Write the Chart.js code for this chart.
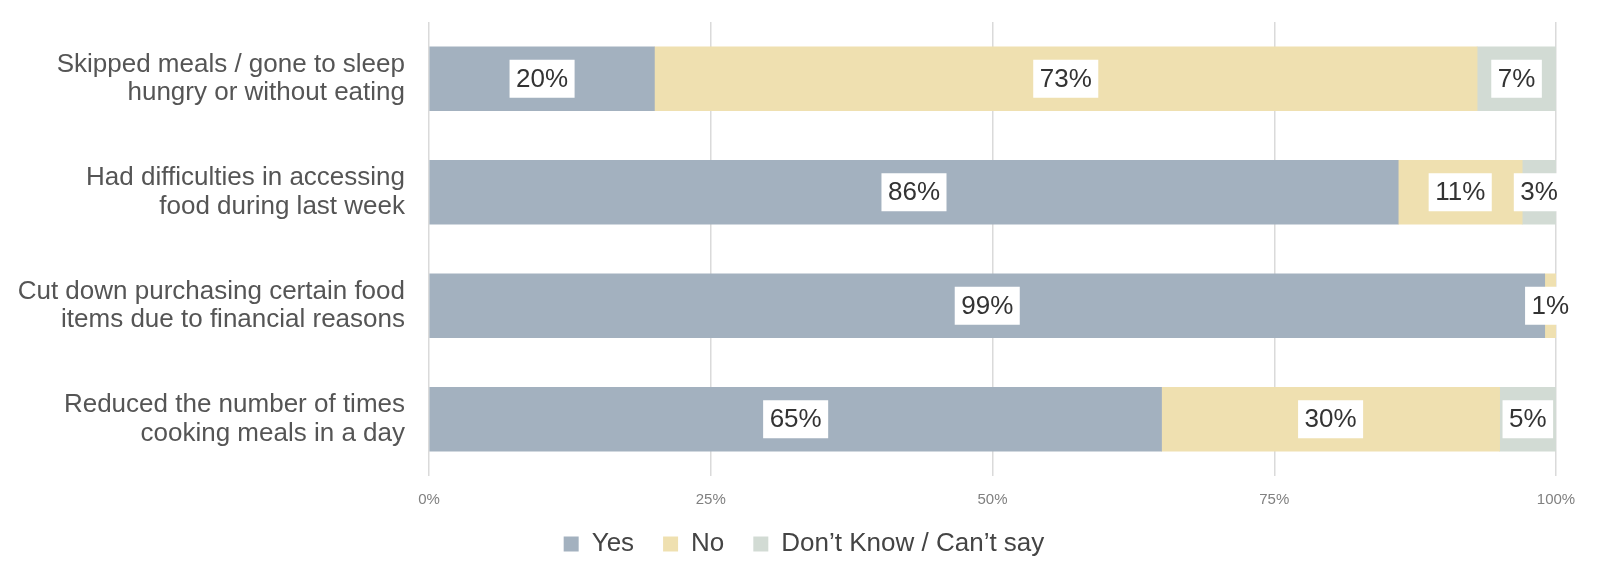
<!DOCTYPE html>
<html><head><meta charset="utf-8">
<script src="https://cdn.jsdelivr.net/npm/chart.js@4"></script>
<style>html,body{margin:0;padding:0;background:#fff;overflow:hidden}#wrap{width:1600px;height:576px}</style>
</head><body><div id="wrap"><canvas id="c"></canvas></div>
<script>
const categories = [
  ["Skipped meals / gone to sleep","hungry or without eating"],
  ["Had difficulties in accessing","food during last week"],
  ["Cut down purchasing certain food","items due to financial reasons"],
  ["Reduced the number of times","cooking meals in a day"]
];
const seriesNames = ["Yes","No","Don\u2019t Know / Can\u2019t say"];
const yesValues = [20, 86, 99, 65];
const noValues = [73, 11, 1, 30];
const dkValues = [7, 3, 0, 5];
const tickValues = [0, 25, 50, 75, 100];
const colors = ["#A3B1BF", "#EFE0B0", "#D2DBD4"];
const FONT = "'Liberation Sans', Arial, sans-serif";

const labelPlugin = {
  id: 'boxLabels',
  beforeDraw(chart) {
    if (chart.legend && !chart.legend._shifted) {
      chart.legend.top -= 8;
      chart.legend.bottom -= 8;
      chart.legend._shifted = true;
    }
  },
  afterLayout(chart) { if (chart.legend) chart.legend._shifted = false; },
  afterDatasetsDraw(chart) {
    const ctx = chart.ctx;
    ctx.save();
    ctx.font = "26px " + FONT;
    ctx.textAlign = 'center';
    ctx.textBaseline = 'middle';
    chart.data.datasets.forEach((ds, di) => {
      const meta = chart.getDatasetMeta(di);
      meta.data.forEach((bar, i) => {
        const v = ds.data[i];
        if (!v) return;
        const x = (bar.x + bar.base) / 2;
        const y = bar.y;
        const t = v + '%';
        const w = ctx.measureText(t).width + 13;
        const h = 38;
        ctx.fillStyle = '#fff';
        ctx.fillRect(x - w / 2, y - h / 2, w, h);
        ctx.fillStyle = '#333';
        ctx.fillText(t, x, y + 1);
      });
    });
    ctx.restore();
  }
};

new Chart(document.getElementById('c'), {
  type: 'bar',
  data: {
    labels: categories,
    datasets: [
      { label: seriesNames[0], data: yesValues, backgroundColor: colors[0] },
      { label: seriesNames[1], data: noValues, backgroundColor: colors[1] },
      { label: seriesNames[2], data: dkValues, backgroundColor: colors[2] }
    ]
  },
  options: {
    indexAxis: 'y',
    responsive: true,
    maintainAspectRatio: false,
    animation: false,
    layout: { padding: { top: 22, right: -8, bottom: 1, left: 0 } },
    datasets: { bar: { barThickness: 64 } },
    scales: {
      x: {
        stacked: true, min: 0, max: 100,
        afterBuildTicks(s) { s.ticks = tickValues.map(v => ({ value: v })); },
        afterFit(s) { s.height = 34; s.paddingLeft = 0; s.paddingRight = 0; },
        grid: { color: '#DADADA', lineWidth: 1.5, drawTicks: false },
        border: { display: false },
        ticks: { color: '#808080', font: { family: FONT, size: 15 }, padding: 15, callback: v => v + '%' }
      },
      y: {
        stacked: true,
        grid: { display: false },
        border: { display: false },
        afterFit(s) { s.width = 429; s.paddingTop = 0; s.paddingBottom = 0; },
        ticks: { color: '#555', font: { family: FONT, size: 26, lineHeight: 1.1 }, padding: 16 }
      },
      yPad: {
        type: 'linear', position: 'right', display: true,
        grid: { display: false, drawTicks: false },
        border: { display: false },
        ticks: { display: false },
        afterFit(s) { s.width = 52; s.paddingTop = 0; s.paddingBottom = 0; }
      }
    },
    plugins: {
      legend: {
        position: 'bottom',
        labels: { color: '#444', font: { family: FONT, size: 26 }, boxWidth: 15, boxHeight: 15, padding: 29 }
      },
      tooltip: { enabled: false }
    }
  },
  plugins: [labelPlugin]
});
</script></body></html>
